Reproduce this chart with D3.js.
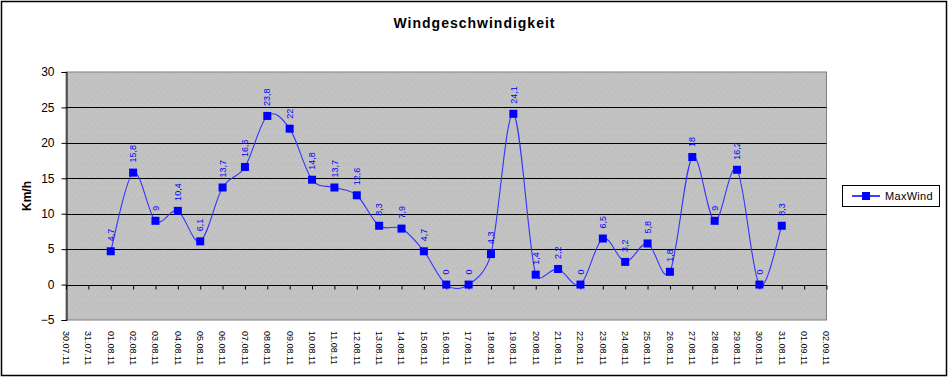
<!DOCTYPE html>
<html>
<head>
<meta charset="utf-8">
<script src="https://cdn.jsdelivr.net/npm/d3@7"></script>
<style>
  body { margin: 0; background: #fff; }
  svg { display: block; font-family: Arial, "Liberation Sans", sans-serif; }
</style>
</head>
<body>
<div class="chart"></div>
<script>
const dates = ['30.07.11','31.07.11','01.08.11','02.08.11','03.08.11','04.08.11','05.08.11','06.08.11',
  '07.08.11','08.08.11','09.08.11','10.08.11','11.08.11','12.08.11','13.08.11','14.08.11','15.08.11',
  '16.08.11','17.08.11','18.08.11','19.08.11','20.08.11','21.08.11','22.08.11','23.08.11','24.08.11',
  '25.08.11','26.08.11','27.08.11','28.08.11','29.08.11','30.08.11','31.08.11','01.09.11','02.09.11'];
// km/h, null = kein Wert
const maxWind = [null, null, 4.7, 15.8, 9, 10.4, 6.1, 13.7, 16.6, 23.8, 22, 14.8, 13.7, 12.6, 8.3, 7.9, 4.7,
  0, 0, 4.3, 24.1, 1.4, 2.2, 0, 6.5, 3.2, 5.8, 1.8, 18, 9, 16.2, 0, 8.3, null, null];
const yTicks = [-5, 0, 5, 10, 15, 20, 25, 30];
const seriesName = 'MaxWind';

const w = 949, h = 378;
const pLeft = 66, pRight = 826.5, pTop = 72, pBottom = 320;

const svg = d3.select('div.chart').append('svg')
  .attr('width', w)
  .attr('height', h);

// grauer Hintergrund mit feinem Punktmuster
const pat = svg.append('defs').append('pattern')
  .attr('id', 'dots')
  .attr('width', 7).attr('height', 7)
  .attr('patternUnits', 'userSpaceOnUse');
pat.append('rect').attr('width', 7).attr('height', 7).attr('fill', '#c0c0c0');
[[0, 0], [4, 1], [2, 3], [6, 4], [1, 5], [5, 6], [3, 6]].forEach(p => {
  pat.append('rect').attr('x', p[0]).attr('y', p[1]).attr('width', 1).attr('height', 1).attr('fill', '#cacaca');
});

svg.append('rect')
  .attr('x', 1.5).attr('y', 1.5)
  .attr('width', 945).attr('height', 374)
  .attr('fill', '#fff')
  .attr('stroke', '#000')
  .attr('stroke-width', 1.5);

const xScale = d3.scalePoint()
  .domain(dates)
  .range([pLeft, pRight]);
const yScale = d3.scaleLinear()
  .domain([-5, 30])
  .range([pBottom, pTop]);

svg.append('rect')
  .attr('x', pLeft).attr('y', pTop)
  .attr('width', pRight - pLeft).attr('height', pBottom - pTop)
  .attr('fill', 'url(#dots)')
  .attr('stroke', '#808080')
  .attr('stroke-width', 1);

// Gitternetz
svg.append('g')
  .selectAll('line')
  .data(yTicks.filter(d => d > -5 && d < 30))
  .enter()
  .append('line')
  .attr('x1', pLeft).attr('x2', pRight)
  .attr('y1', d => Math.round(yScale(d)) + 0.5)
  .attr('y2', d => Math.round(yScale(d)) + 0.5)
  .attr('stroke', '#000');

// y-Achse
const yAxis = d3.axisLeft(yScale).tickValues(yTicks).tickSize(5).tickPadding(7);
const gy = svg.append('g')
  .attr('transform', 'translate(' + (pLeft + 0.5) + ',0)')
  .call(yAxis);
gy.select('.domain').attr('stroke', '#000');
gy.selectAll('text').attr('font-size', 12).attr('font-family', 'Arial, "Liberation Sans", sans-serif').attr('fill', '#000');

// x-Achse auf der Nulllinie
const xAxis = d3.axisBottom(xScale).tickSize(4).tickFormat('');
const gx = svg.append('g')
  .attr('transform', 'translate(0,' + (Math.round(yScale(0)) + 0.5) + ')')
  .call(xAxis);
gx.select('.domain').remove();

svg.append('g')
  .selectAll('text')
  .data(dates)
  .enter()
  .append('text')
  .attr('transform', d => 'translate(' + xScale(d) + ',331) rotate(90)')
  .attr('dy', '0.35em')
  .attr('font-size', 9)
  .text(d => d);

// Titel
svg.append('text')
  .attr('x', 474.5).attr('y', 28)
  .attr('text-anchor', 'middle')
  .attr('font-size', 14)
  .attr('font-weight', 'bold')
  .attr('letter-spacing', 1)
  .text('Windgeschwindigkeit');

svg.append('text')
  .attr('transform', 'translate(27,' + ((pTop + pBottom) / 2) + ') rotate(-90)')
  .attr('text-anchor', 'middle')
  .attr('dy', '0.35em')
  .attr('font-size', 12)
  .attr('font-weight', 'bold')
  .text('Km/h');

// Linie, geglaettet wie in Excel (Bezier, Kontrollpunkte auf halbe Segmentlaenge begrenzt)
const pts = dates.map((d, i) => ({date: d, v: maxWind[i]})).filter(p => p.v !== null);
const xy = pts.map(d => [xScale(d.date), yScale(d.v)]);

function tangent(a, c) {
  const tx = (c[0] - a[0]) / 6, ty = (c[1] - a[1]) / 6;
  return [tx, ty, Math.hypot(tx, ty)];
}

const path = d3.path();
path.moveTo(xy[0][0], xy[0][1]);
for (let i = 0; i < xy.length - 1; i++) {
  const p0 = xy[i - 1] || xy[i], p1 = xy[i], p2 = xy[i + 1], p3 = xy[i + 2] || xy[i + 1];
  const seg = Math.hypot(p2[0] - p1[0], p2[1] - p1[1]);
  const a = tangent(p0, p2), b = tangent(p1, p3);
  const fa = a[2] > seg / 2 ? (seg / 2) / a[2] : 1;
  const fb = b[2] > seg / 2 ? (seg / 2) / b[2] : 1;
  path.bezierCurveTo(p1[0] + a[0] * fa, p1[1] + a[1] * fa,
                     p2[0] - b[0] * fb, p2[1] - b[1] * fb,
                     p2[0], p2[1]);
}

svg.append('path')
  .attr('d', path.toString())
  .attr('fill', 'none')
  .attr('stroke', '#3333ff')
  .attr('stroke-width', 1.1);

svg.append('g')
  .selectAll('rect')
  .data(pts)
  .enter()
  .append('rect')
  .attr('x', d => xScale(d.date) - 4)
  .attr('y', d => yScale(d.v) - 4)
  .attr('width', 8).attr('height', 8)
  .attr('fill', '#0000ff');

svg.append('g')
  .selectAll('text')
  .data(pts)
  .enter()
  .append('text')
  .attr('transform', d => 'translate(' + xScale(d.date) + ',' + (yScale(d.v) - 10) + ') rotate(-90)')
  .attr('dy', '0.35em')
  .attr('font-size', 9)
  .attr('fill', '#0000ff')
  .text(d => String(d.v).replace('.', ','));

// Legende
const lg = svg.append('g');
lg.append('rect')
  .attr('x', 842.5).attr('y', 185.5)
  .attr('width', 97).attr('height', 21)
  .attr('fill', '#fff')
  .attr('stroke', '#000');
lg.append('line')
  .attr('x1', 852).attr('x2', 880)
  .attr('y1', 196).attr('y2', 196)
  .attr('stroke', '#0000ff')
  .attr('stroke-width', 1.5);
lg.append('rect')
  .attr('x', 862).attr('y', 192)
  .attr('width', 8).attr('height', 8)
  .attr('fill', '#0000ff');
lg.append('text')
  .attr('x', 885).attr('y', 196)
  .attr('dy', '0.35em')
  .attr('font-size', 11)
  .attr('letter-spacing', 0.3)
  .text(seriesName);
</script>
</body>
</html>
